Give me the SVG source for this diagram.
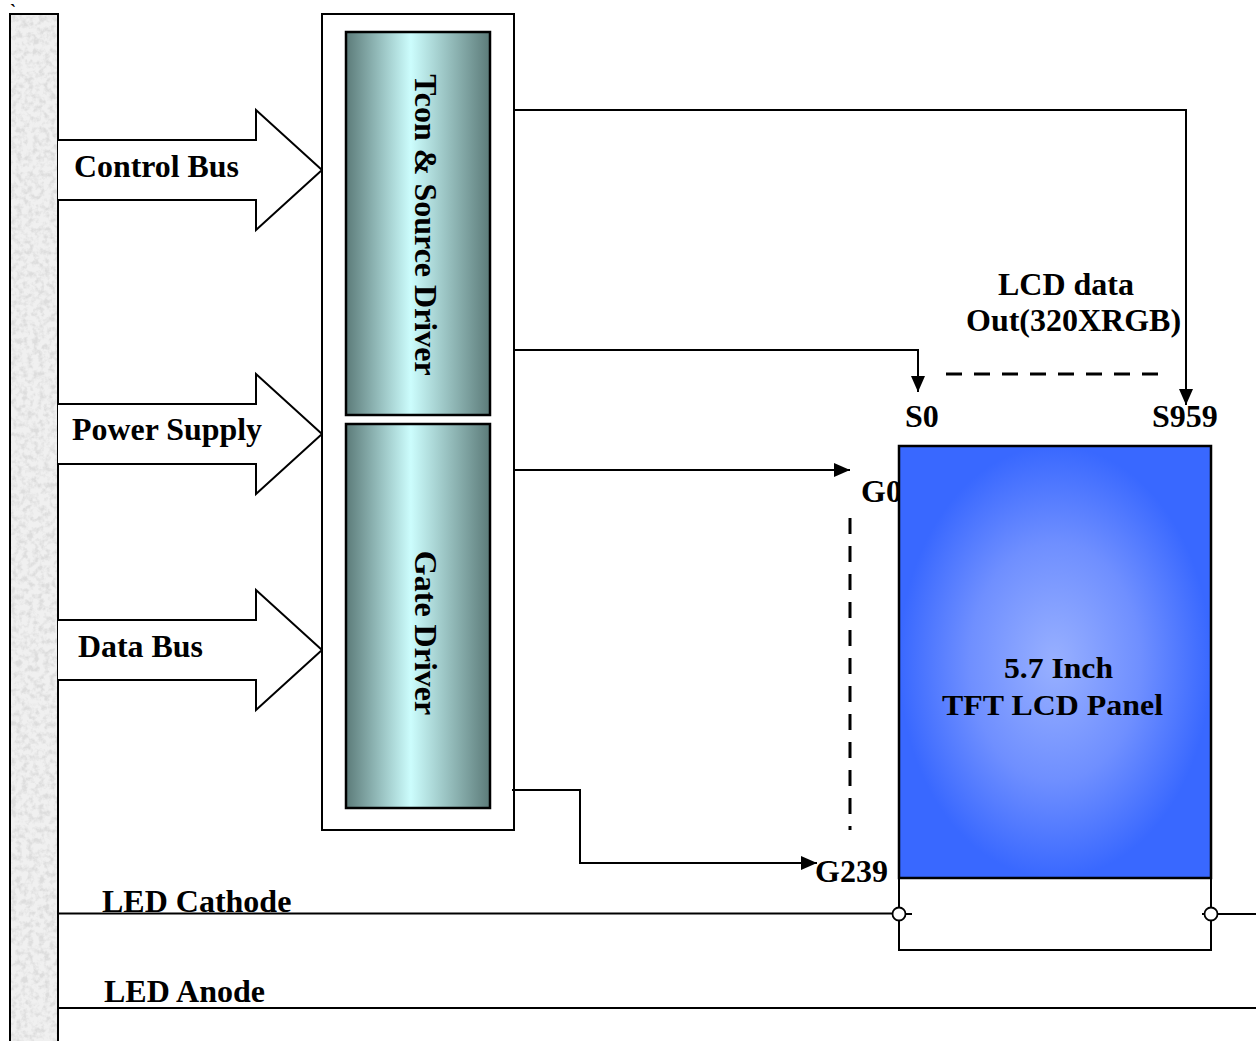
<svg xmlns="http://www.w3.org/2000/svg" width="1256" height="1041" viewBox="0 0 1256 1041">
<style>
.t{font-family:"Liberation Serif","Times New Roman",serif;font-weight:bold;font-size:32px;fill:#000}
.ln{fill:none;stroke:#000;stroke-width:2}
.dash{fill:none;stroke:#000;stroke-width:3;stroke-dasharray:16 12}
.arr{fill:#fff;stroke:#000;stroke-width:2;stroke-linejoin:miter}
.drv{stroke:#000;stroke-width:2.5;fill:url(#cyanG)}
</style>
<defs>
<linearGradient id="cyanG" x1="0" y1="0" x2="1" y2="0">
<stop offset="0" stop-color="#5c7b79"/>
<stop offset="0.45" stop-color="#ccfdfd"/>
<stop offset="1" stop-color="#5c7b79"/>
</linearGradient>
<radialGradient id="panelG" cx="0.5" cy="0.5" r="0.5">
<stop offset="0" stop-color="#98b0ff"/>
<stop offset="0.55" stop-color="#6f8fff"/>
<stop offset="1" stop-color="#3968ff"/>
</radialGradient>
<filter id="tex" x="0" y="0" width="1" height="1">
<feTurbulence type="fractalNoise" baseFrequency="0.18" numOctaves="3" seed="7" result="n"/>
<feColorMatrix in="n" type="matrix" values="0 0 0 0 0.72 0 0 0 0 0.72 0 0 0 0 0.72 0 0 0 3 -1.25" result="spots"/>
<feComposite in="spots" in2="SourceGraphic" operator="in" result="s2"/>
<feMerge><feMergeNode in="SourceGraphic"/><feMergeNode in="s2"/></feMerge>
</filter>
<marker id="ah" markerUnits="userSpaceOnUse" markerWidth="17" markerHeight="14" refX="16" refY="7" orient="auto">
<path d="M0,0 L16,7 L0,14 z" fill="#000"/>
</marker>
</defs>

<text class="t" x="10" y="17" style="font-size:18px">`</text>

<g id="host-bus">
<rect x="10" y="14" width="48" height="1040" fill="#f0f0f0" filter="url(#tex)"/>
<rect x="10" y="14" width="48" height="1040" fill="none" stroke="#000" stroke-width="2"/>
</g>

<g id="control-bus">
<path class="arr" d="M58,140 H256 V110 L322,170 L256,230 V200 H58"/>
<text class="t" x="74" y="177" textLength="165" lengthAdjust="spacingAndGlyphs">Control Bus</text>
</g>
<g id="power-supply">
<path class="arr" d="M58,404 H256 V374 L322,434 L256,494 V464 H58"/>
<text class="t" x="72" y="440" textLength="190" lengthAdjust="spacingAndGlyphs">Power Supply</text>
</g>
<g id="data-bus">
<path class="arr" d="M58,620 H256 V590 L322,650 L256,710 V680 H58"/>
<text class="t" x="78" y="657" textLength="125" lengthAdjust="spacingAndGlyphs">Data Bus</text>
</g>

<g id="driver-module">
<rect x="322" y="14" width="192" height="816" fill="#fff" stroke="#000" stroke-width="2"/>
</g>
<g id="tcon-source-driver">
<rect class="drv" x="346" y="32" width="144" height="383"/>
<text class="t" transform="translate(415,225) rotate(90)" text-anchor="middle">Tcon &amp; Source Driver</text>
</g>
<g id="gate-driver">
<rect class="drv" x="346" y="424" width="144" height="384"/>
<text class="t" transform="translate(415,633) rotate(90)" text-anchor="middle">Gate Driver</text>
</g>

<g id="labels">
<text class="t" x="998" y="295">LCD data</text>
<text class="t" x="966" y="331">Out(320XRGB)</text>
<text class="t" x="905" y="427">S0</text>
<text class="t" x="1152" y="427">S959</text>
<text class="t" x="861" y="502">G0</text>
<text class="t" x="815" y="882">G239</text>
<text class="t" x="102" y="912">LED Cathode</text>
<text class="t" x="104" y="1002">LED Anode</text>
</g>

<g id="tft-panel">
<rect x="899" y="446" width="312" height="432" fill="url(#panelG)" stroke="#000" stroke-width="2.5"/>
<text class="t" x="1004" y="678" style="font-size:30px" textLength="109" lengthAdjust="spacingAndGlyphs">5.7 Inch</text>
<text class="t" x="942" y="715" style="font-size:30px" textLength="221" lengthAdjust="spacingAndGlyphs">TFT LCD Panel</text>
</g>

<g id="backlight">
<path class="ln" d="M899,878 V950 H1211 V878"/>
</g>

<g id="connectors">
<path class="ln" d="M514,110 H1186 V405" marker-end="url(#ah)"/>
<path class="ln" d="M514,350 H918 V392" marker-end="url(#ah)"/>
<path class="ln" d="M514,470 H850" marker-end="url(#ah)"/>
<path class="ln" d="M512,790 H580 V863 H817" marker-end="url(#ah)"/>
<path class="dash" d="M946,374 H1160"/>
<path class="dash" d="M850,518 V830"/>
<path class="ln" d="M58,913.5 H892.5"/>
<path class="ln" d="M905.5,914 H912"/>
<path class="ln" d="M1202,914 H1204.5"/>
<path class="ln" d="M1217.5,914 H1256"/>
<circle cx="899" cy="914" r="6.5" fill="#fff" stroke="#000" stroke-width="1.8"/>
<circle cx="1211" cy="914" r="6.5" fill="#fff" stroke="#000" stroke-width="1.8"/>
<path class="ln" d="M58,1008 H1256"/>
</g>
</svg>
